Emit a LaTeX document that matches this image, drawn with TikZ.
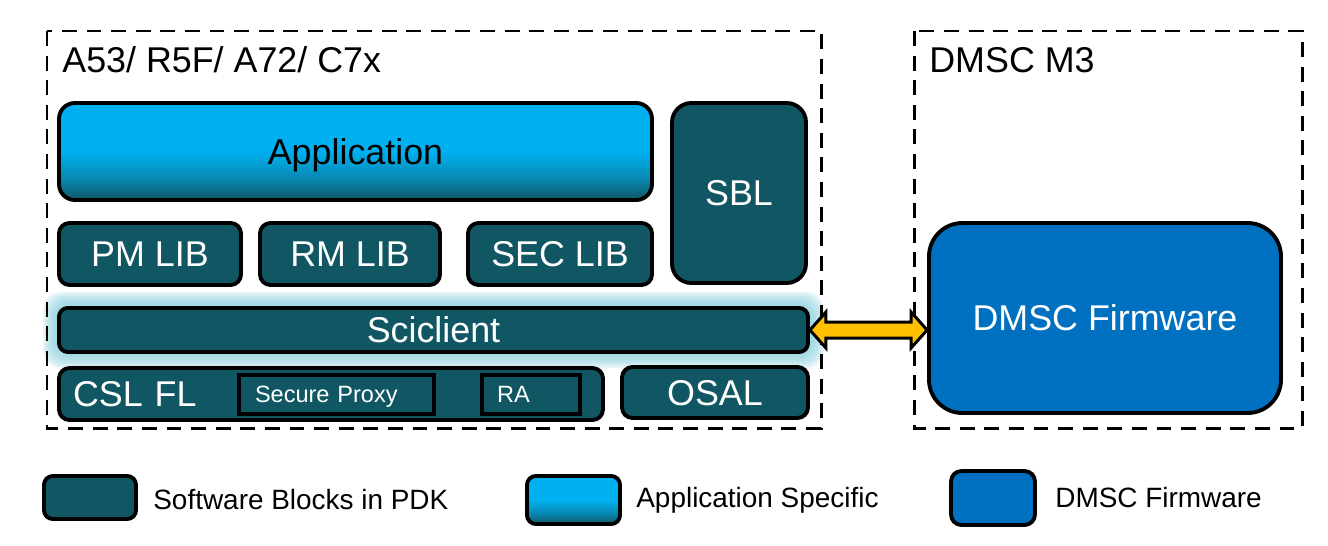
\documentclass[tikz,border=0pt]{standalone}
\usepackage{fontspec}
\setmainfont{Liberation Sans}
\usetikzlibrary{calc,backgrounds}

\definecolor{swteal}{HTML}{105763}
\definecolor{appblue}{HTML}{00B0F0}
\definecolor{fwblue}{HTML}{0070C0}
\definecolor{glowblue}{HTML}{8ACFDD}
\definecolor{linkyellow}{HTML}{FFC000}

\newlength\unitpx
\setlength\unitpx{0.02cm}

\pgfdeclareverticalshading{appshade}{100bp}{color(0bp)=(swteal); color(25bp)=(swteal); color(36bp)=(appblue!55!swteal); color(50bp)=(appblue); color(100bp)=(appblue)}

\tikzset{
  box/.style={rectangle, draw=black, line width=2.2pt, inner sep=0pt, text depth=0pt, text=white, font=\fontsize{20.4}{24}\selectfont},
  swblock/.style={box, fill=swteal, rounded corners=6pt},
  appblock/.style={box, shade, shading=appshade, text=black, rounded corners=9pt},
  fwblock/.style={box, fill=fwblue, rounded corners=19pt},
  inblock/.style={rectangle, draw=black, line width=2.2pt, fill=swteal, text=white, inner sep=0pt, text depth=0pt, align=left, font=\fontsize{13.4}{16}\selectfont},
  corebox/.style={draw=black, line width=1.7pt, dash pattern=on 8.5pt off 5.5pt},
  title/.style={anchor=base west, inner sep=0pt, font=\fontsize{20.4}{24}\selectfont},
  legtext/.style={anchor=west, inner sep=0pt, font=\fontsize{15.9}{19}\selectfont},
  link/.style={draw=black, line width=1.7pt, fill=linkyellow, line join=miter},
}

\begin{document}
\begin{tikzpicture}[x=\unitpx, y=-\unitpx]
  \useasboundingbox (0,0) rectangle (1328,545);

  % cores
  \draw[corebox] (47,31) rectangle (821,428);
  \draw[corebox] (914,31) rectangle (1302,428);
  \node[title] (coretitle) at (62,72) {A53/ R5F/ A72/ C7x};
  \node[title] (dmsctitle) at (929,72) {DMSC M3};

  % software stack
  \node[appblock, minimum width=593\unitpx, minimum height=97\unitpx] (app) at (355.5,151.5) {Application};
  \node[swblock, rounded corners=11pt, minimum width=134\unitpx, minimum height=180\unitpx] (sbl) at (739,193) {SBL};
  \node[swblock, minimum width=182\unitpx, minimum height=62\unitpx] (pmlib) at (150,254) {PM LIB};
  \node[swblock, minimum width=180\unitpx, minimum height=62\unitpx] (rmlib) at (350,254) {RM LIB};
  \node[swblock, minimum width=184\unitpx, minimum height=62\unitpx] (seclib) at (560,254) {SEC LIB};
  \node[swblock, rounded corners=5pt, minimum width=749\unitpx, minimum height=44\unitpx] (sci) at (433.5,330) {Sciclient};
  \node[swblock, minimum width=544\unitpx, minimum height=52\unitpx, text width=516\unitpx, align=left] (csl) at (331,394) {CSL FL};
  \node[inblock, minimum width=195\unitpx, minimum height=39\unitpx, text width=163\unitpx] (sproxy) at (336.5,394.5) {Secure Proxy};
  \node[inblock, minimum width=98\unitpx, minimum height=39\unitpx, text width=68\unitpx] (ra) at (531,394.5) {RA};
  \node[swblock, minimum width=186\unitpx, minimum height=51\unitpx] (osal) at (715,392.5) {OSAL};

  % glow behind sciclient
  \begin{scope}[on background layer]
    \foreach \g in {14,12,...,2}
      \fill[glowblue, opacity=0.2, rounded corners=10pt] ([shift={(-\g,-\g)}]sci.north west) rectangle ([shift={(\g,\g)}]sci.south east);
  \end{scope}

  % firmware
  \node[fwblock, minimum width=352\unitpx, minimum height=190\unitpx] (fw) at (1105,318) {DMSC Firmware};

  % link
  \coordinate (tipL) at (sci.east);
  \coordinate (tipR) at (fw.west |- sci.east);
  \draw[link] (tipL) -- ([shift={(16,-18)}]tipL) -- ([shift={(16,-8)}]tipL) -- ([shift={(-16,-8)}]tipR) -- ([shift={(-16,-18)}]tipR) -- (tipR) -- ([shift={(-16,18)}]tipR) -- ([shift={(-16,8)}]tipR) -- ([shift={(16,8)}]tipL) -- ([shift={(16,18)}]tipL) -- cycle;

  % legend
  \node[swblock, rounded corners=5pt, minimum width=92\unitpx, minimum height=43\unitpx] (legsw) at (90,497.5) {};
  \node[legtext] (legswtext) at (153,500) {Software Blocks in PDK};
  \node[appblock, rounded corners=5pt, minimum width=93\unitpx, minimum height=48\unitpx] (legapp) at (573.5,500) {};
  \node[legtext] (legapptext) at (636,500) {Application Specific};
  \node[fwblock, rounded corners=6pt, minimum width=84\unitpx, minimum height=54\unitpx] (legfw) at (993,498) {};
  \node[legtext] (legfwtext) at (1055,498) {DMSC Firmware};
\end{tikzpicture}
\end{document}
